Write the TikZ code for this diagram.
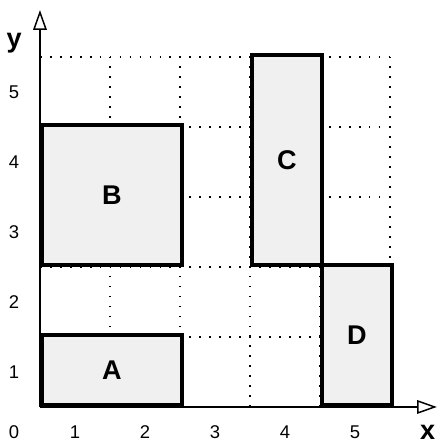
\documentclass[tikz,border=0pt]{standalone}
\usepackage{fontspec}
\setmainfont{Liberation Sans}
\usepackage{tikz}
\usetikzlibrary{arrows.meta}
\usetikzlibrary{positioning}

\begin{document}
\begin{tikzpicture}[scale=1]
% définition des paramètres
\tikzstyle grilleboite=[color=black,line width=0.7pt,dash pattern=on 0.7pt off 3.35pt]
\tikzstyle rectboite=[draw=black,fill=black!6,line width=1.5pt,anchor=south west,inner sep=0pt]
\tikzstyle axeboite=[color=black,line width=0.45pt,-{Triangle[open,length=8pt,width=5.5pt,line width=0.6pt]}]
\tikzstyle graduboite=[font=\fontsize{7.5}{9}\selectfont]
\tikzstyle lettreboite=[font=\fontsize{11}{13}\selectfont\bfseries]
\useasboundingbox (-0.571,-0.529) rectangle (5.686,5.814);
% la grille
\draw [grilleboite] (0,0) grid (5,5);
% les boites
\node [rectboite,lettreboite,minimum width=2cm,minimum height=1cm] (A) at (0,0) {A};
\node [rectboite,lettreboite,minimum width=2cm,minimum height=2cm] (B) at (0,2) {B};
\node [rectboite,lettreboite,minimum width=1cm,minimum height=3cm] (C) at (3,2) {C};
\node [rectboite,lettreboite,minimum width=1cm,minimum height=2cm] (D) at (4,0) {D};
% les axes
\coordinate (O) at (0,0);
\coordinate (xfin) at (5.67,0);
\coordinate (yfin) at (0,5.67);
\draw [axeboite] (O) -- (xfin);
\draw [axeboite] (O) -- (yfin);
\node [lettreboite] (xnom) at (5.54,-0.36) {x};
\node [lettreboite] (ynom) at (-0.37,5.2) {y};
% les graduations
\node [graduboite] (g0) at (-0.37,-0.36) {0};
\foreach \i in {1,...,5}
    \node [graduboite] (gx\i) at (\i-0.5,-0.36) {\i};
\foreach \i in {1,...,5}
    \node [graduboite] (gy\i) at (-0.37,\i-0.5) {\i};
\end{tikzpicture}
\end{document}
